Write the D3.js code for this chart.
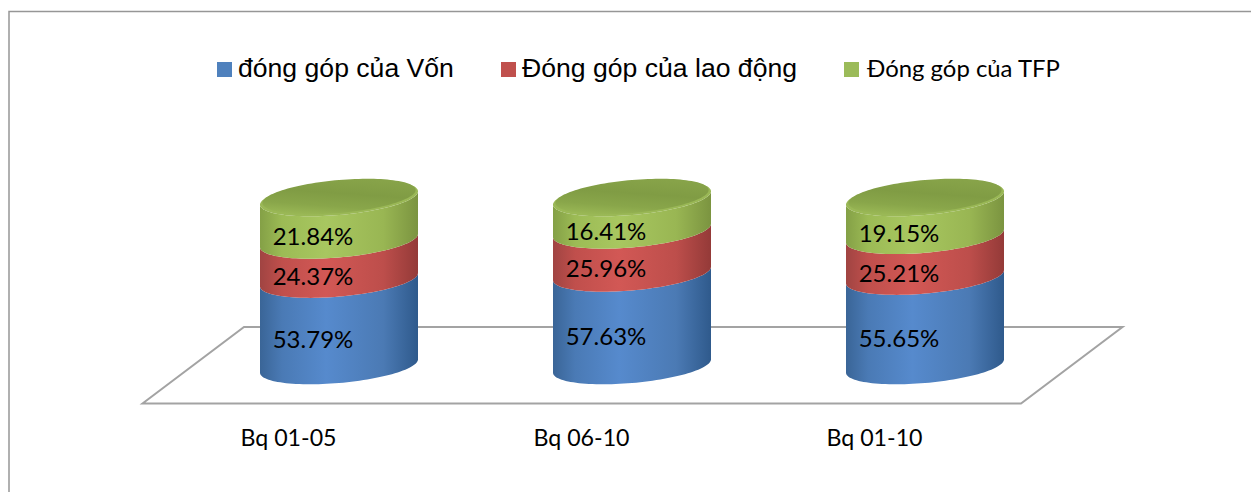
<!DOCTYPE html>
<html>
<head>
<meta charset="utf-8">
<script src="https://cdn.jsdelivr.net/npm/d3@7"></script>
<style>
html,body{margin:0;padding:0;background:#fff;overflow:hidden}
svg{display:block}
</style>
</head>
<body>
<svg id="chart" width="1251" height="492"></svg>
<script>
const categories = ["Bq 01-05", "Bq 06-10", "Bq 01-10"];
const seriesNames = ["đóng góp của Vốn", "Đóng góp của lao động", "Đóng góp của TFP"];
const vonValues = [53.79, 57.63, 55.65];
const laoDongValues = [24.37, 25.96, 25.21];
const tfpValues = [21.84, 16.41, 19.15];
const seriesValues = [vonValues, laoDongValues, tfpValues];

const svg = d3.select("#chart");
const W = 1251, H = 492;

// scales
const x = d3.scalePoint().domain(categories).range([339, 925]);
const xAxisScale = d3.scalePoint().domain(categories).range([288, 874]);
// the cumulative share axis; the upper part is stretched by the 3D perspective
const y = d3.scaleLinear().domain([0, 80, 100]).range([366, 237.5, 198]);
const rx = 79, ry = 17, skew = -0.085;

const palette = [
  {id:"blue",  edgeL:"#3a6597", soft:"#4a7ab5", mid:"#568acd", soft2:"#4b7ab4", edgeR:"#2f5a8c"},
  {id:"red",   edgeL:"#a04442", soft:"#c04f4c", mid:"#d25855", soft2:"#bd4e4b", edgeR:"#943a38"},
  {id:"green", edgeL:"#84a046", soft:"#9cbb55", mid:"#a8c760", soft2:"#99b653", edgeR:"#7b9440"}
];

const defs = svg.append("defs");
palette.forEach(p => {
  const g = defs.append("linearGradient").attr("id", "grad-" + p.id)
    .attr("x1", 0).attr("x2", 1).attr("y1", 0).attr("y2", 0);
  [[0,p.edgeL],[0.14,p.soft],[0.42,p.mid],[0.78,p.soft2],[1,p.edgeR]]
    .forEach(s => g.append("stop").attr("offset", s[0]).attr("stop-color", s[1]));
});
const topGrad = defs.append("linearGradient").attr("id", "grad-top")
  .attr("x1", 0.3).attr("x2", 0.6).attr("y1", 1).attr("y2", 0);
[[0,"#98b654"],[0.25,"#89a64a"],[0.6,"#809c44"],[1,"#87a349"]]
  .forEach(s => topGrad.append("stop").attr("offset", s[0]).attr("stop-color", s[1]));

// frame
svg.append("path").attr("d", d3.line()([[9, H], [9, 11.5], [W, 11.5]]))
  .attr("fill", "none").attr("stroke", "#969696").attr("stroke-width", 1.5);

// floor
svg.append("path")
  .attr("d", d3.line()([[142.5, 403.5], [244, 327], [1122.5, 327], [1021, 403.5]]) + "Z")
  .attr("fill", "none").attr("stroke", "#a3a3a3").attr("stroke-width", 2);

// cylinders
const angles = d3.range(0, 1.0001, 1 / 60);
function pt(cx, cy, t) {
  const a = Math.PI * t;
  return [cx + rx * Math.cos(a), cy + ry * Math.sin(a) + skew * rx * Math.cos(a)];
}
const line = d3.line();
function bodyPath(cx, y0, y1) {
  const lower = angles.map(t => pt(cx, y0, t));            // right to left along the front
  const upper = angles.map(t => pt(cx, y1, 1 - t));        // left to right
  return line(lower.concat(upper)) + "Z";
}
function ellipsePath(cx, cy, scale) {
  return line(d3.range(0, 2, 1 / 60).map(t => {
    const a = Math.PI * t;
    return [cx + scale * rx * Math.cos(a),
            cy + scale * ry * Math.sin(a) + skew * scale * rx * Math.cos(a)];
  })) + "Z";
}

const font3 = "Lato, Carlito, 'Open Sans', sans-serif";
categories.forEach((c, i) => {
  const g = svg.append("g").attr("class", "cylinder");
  let cum = 0;
  const segs = seriesValues.map((vals, s) => {
    const start = cum; cum += vals[i];
    return {s, v: vals[i], start, end: cum};
  });
  g.selectAll("path.seg").data(segs).join("path")
    .attr("class", "seg")
    .attr("d", d => bodyPath(x(c), y(d.start), y(d.end)))
    .attr("fill", d => `url(#grad-${palette[d.s].id})`);
  const topY = y(segs[2].end);
  g.append("path").attr("d", ellipsePath(x(c), topY, 1)).attr("fill", "#9ab856");
  g.append("path").attr("d", ellipsePath(x(c), topY - 1.5, 0.97)).attr("fill", "url(#grad-top)");
  g.selectAll("text").data(segs).join("text")
    .attr("x", x(c) - 26)
    .attr("y", d => (y(d.start) + y(d.end)) / 2 + 17)
    .attr("dy", "0.35em")
    .attr("text-anchor", "middle")
    .attr("font-family", font3).attr("font-size", 24).attr("fill", "#000")
    .text(d => d.v.toFixed(2) + "%");
});

// category axis
const axis = svg.append("g").attr("transform", "translate(0,422)")
  .call(d3.axisBottom(xAxisScale).tickSize(0).tickPadding(8));
axis.select(".domain").remove();
axis.selectAll("text").attr("font-family", font3).attr("font-size", 23.2).attr("fill", "#000");

// legend
const legendX = [217, 501, 844];
const legendFonts = [
  {f:"'Liberation Sans', Arial, sans-serif", s:26.6},
  {f:"'Liberation Sans', Arial, sans-serif", s:26.6},
  {f:font3, s:23.9}
];
const lg = svg.selectAll("g.legend").data(seriesNames).join("g").attr("class", "legend");
lg.append("rect").attr("x", (d, i) => legendX[i]).attr("y", 62)
  .attr("width", 15).attr("height", 15)
  .attr("fill", (d, i) => ["#4f81bd", "#c0504d", "#9bbb59"][i]);
lg.append("text").attr("x", (d, i) => legendX[i] + 21 + (i === 2 ? 2 : 0)).attr("y", 77)
  .attr("font-family", (d, i) => legendFonts[i].f)
  .attr("font-size", (d, i) => legendFonts[i].s)
  .attr("fill", "#000").text(d => d);
</script>
</body>
</html>
